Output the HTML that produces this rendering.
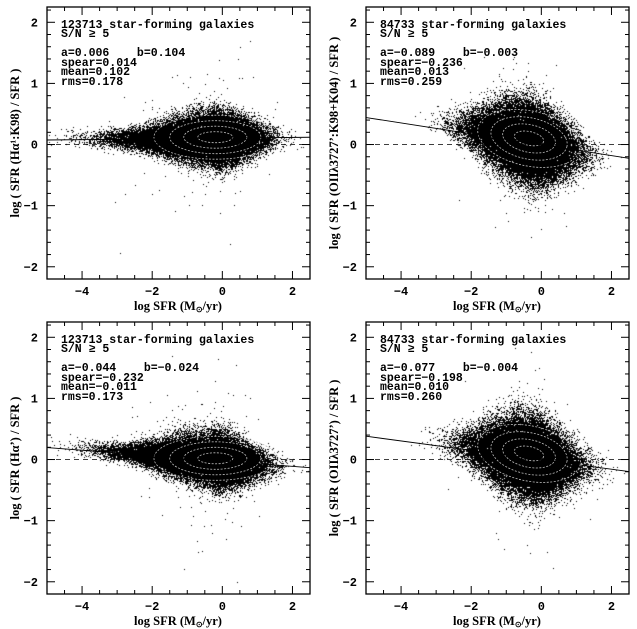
<!DOCTYPE html>
<html><head><meta charset="utf-8"><style>
html,body{margin:0;padding:0;background:#fff;}
#wrap{position:relative;width:637px;height:629px;overflow:hidden;}
canvas,svg{position:absolute;left:0;top:0;}
text{font-family:"Liberation Mono",monospace;fill:#000;white-space:pre;}
text.serif{font-family:"Liberation Serif",serif;}
</style></head><body>
<div id="wrap">
<canvas id="cv" width="637" height="629"></canvas>
<svg id="sv" width="637" height="629"></svg>
</div>
<script>
// ---- data ----
const panelCounts = ["123713","84733","123713","84733"];
const fitA = [0.006,-0.089,-0.044,-0.077];
const fitB = [0.104,-0.003,-0.024,-0.004];
const spearVals = ["0.014","-0.236","-0.232","-0.198"];
const meanVals = ["0.102","0.013","-0.011","0.010"];
const rmsVals = ["0.178","0.259","0.173","0.260"];
const yLabels = ["log ( SFR (H\u03b1\u00b9:K98) / SFR )","log ( SFR (OII\u03bb3727\u2019:K98+K04) / SFR )","log ( SFR (H\u03b1\u2019) / SFR )","log ( SFR (OII\u03bb3727\u2019) / SFR )"];
const cloudXCenter = [-0.3,-0.4,-0.3,-0.4];
const cloudXSpreadLeft = [1.25,0.8,1.25,0.8];
const cloudXSpreadRight = [0.65,0.65,0.65,0.65];
const cloudYCenter = [0.1,0.05,0.0,0.05];
const cloudYSpread = [0.2,0.3,0.2,0.3];
const cloudTilt = [0.0,-0.12,-0.05,-0.1];
const cloudN = [40000,40000,40000,40000];
const xTicks = [-4,-2,0,2];
const yTicks = [-2,-1,0,1,2];
const xMin=-5,xMax=2.5,yMin=-2.2,yMax=2.25;

// ---- layout ----
const panelLeft=[47,366,47,366], panelTop=[7,7,322,322];
const PW=263, PH=272;
const svg=document.getElementById('sv');
const ctx=document.getElementById('cv').getContext('2d');
const NS='http://www.w3.org/2000/svg';
function mk(tag,attrs,parent){const e=document.createElementNS(NS,tag);for(const k in attrs)e.setAttribute(k,attrs[k]);(parent||svg).appendChild(e);return e;}
let seed=12345;
function rnd(){seed|=0;seed=seed+0x6D2B79F5|0;let t=Math.imul(seed^seed>>>15,1|seed);t=t+Math.imul(t^t>>>7,61|t)^t;return((t^t>>>14)>>>0)/4294967296;}
function gauss(){let u=rnd()||1e-9,v=rnd();return Math.sqrt(-2*Math.log(u))*Math.cos(2*Math.PI*v);}

for(let p=0;p<4;p++){
  const L=panelLeft[p],T=panelTop[p];
  const sx=x=>L+(x-xMin)/(xMax-xMin)*PW;
  const sy=y=>T+(yMax-y)/(yMax-yMin)*PH;
  const g=mk('g',{});
  
  
  ctx.save();ctx.beginPath();ctx.rect(L,T,PW,PH);ctx.clip();
  ctx.fillStyle='#000';
  for(let i=0;i<cloudN[p];i++){
    let gx=gauss();
    let x=cloudXCenter[p]+(gx<0?gx*cloudXSpreadLeft[p]:gx*cloudXSpreadRight[p]);
    const d=x-cloudXCenter[p];
    const w=0.35+0.65*Math.exp(-d*d/2.5);
    let y=cloudYCenter[p]+cloudTilt[p]*d+gauss()*cloudYSpread[p]*w;
    if(rnd()<0.004){y+=gauss()*0.6;}
    ctx.fillRect(Math.round(sx(x)),Math.round(sy(y)),1,1);
  }
  ctx.restore();
  const cg=mk('g',{},g);
  
  
  const rx=[1.75,1.3,0.9,0.5], ry=[0.36,0.27,0.18,0.09];
  for(let k=0;k<4;k++){
    const f=p%2?1.25:1;
    const cx=sx(cloudXCenter[p]+(p%2?0.05:0.1)), cy=sy(cloudYCenter[p]+(p%2?0.05:0.02));
    mk('ellipse',{cx:cx,cy:cy,rx:rx[k]*(p%2?0.85:1)*PW/7.5,ry:ry[k]*f*PH/4.45,fill:'none',stroke:'#bbb','stroke-width':0.8,'stroke-dasharray':'2,1.5',transform:p%2?`rotate(12 ${cx} ${cy})`:''},cg);
  }
  const z=mk('line',{x1:L,x2:L+PW,y1:sy(0),y2:sy(0),stroke:'#000','stroke-width':0.8,'stroke-dasharray':'5,4'},g);
  
  
  const fl=mk('line',{x1:sx(xMin),y1:sy(fitA[p]*xMin+fitB[p]),x2:sx(xMax),y2:sy(fitA[p]*xMax+fitB[p]),stroke:'#000','stroke-width':0.9},g);
  
  
  const fr=mk('rect',{x:L,y:T,width:PW,height:PH,fill:'none',stroke:'#000','stroke-width':1.3},g);
  
  
  for(let v=-5;v<=2.5001;v+=0.5){
    const major=Math.abs(v-Math.round(v/2)*2)<1e-6;const len=major?8:4;const X=sx(v);
    mk('line',{x1:X,x2:X,y1:T+PH,y2:T+PH-len,stroke:'#000','stroke-width':1},g);
    mk('line',{x1:X,x2:X,y1:T,y2:T+len,stroke:'#000','stroke-width':1},g);
  }
  for(let v=-2.2;v<=2.2001;v+=0.2){
    const major=Math.abs(v-Math.round(v))<1e-6;const len=major?8:4;const Y=sy(v);
    mk('line',{x1:L,x2:L+len,y1:Y,y2:Y,stroke:'#000','stroke-width':1},g);
    mk('line',{x1:L+PW,x2:L+PW-len,y1:Y,y2:Y,stroke:'#000','stroke-width':1},g);
  }
  xTicks.forEach(v=>{const t=mk('text',{x:sx(v),y:T+PH+16,'text-anchor':'middle','font-size':12,'font-weight':'bold'},g);t.textContent=v<0?'\u2212'+(-v):v;
    
    });
  yTicks.forEach(v=>{const t=mk('text',{x:L-9,y:sy(v)+4,'text-anchor':'end','font-size':12,'font-weight':'bold'},g);t.textContent=v<0?'\u2212'+(-v):v;
    
    });
  const xl=mk('text',{x:L+131,y:T+PH+31,'text-anchor':'middle','font-size':12.5,'font-weight':'bold','class':'serif'},g);
  xl.innerHTML='log SFR (M<tspan font-size="8" dy="2">\u2299</tspan><tspan dy="-2">/yr)</tspan>';
  
  
  const yl=mk('text',{x:0,y:0,'text-anchor':'middle','font-size':12.5,'font-weight':'bold','class':'serif',transform:`translate(${L-28},${T+PH/2}) rotate(-90)`},g);
  yl.textContent=yLabels[p];
  
  
  const lines=[panelCounts[p]+' star-forming galaxies','S/N \u2265 5',null,'a='+(fitA[p]<0?'\u2212':'')+Math.abs(fitA[p]).toFixed(3)+'    b='+(fitB[p]<0?'\u2212':'')+Math.abs(fitB[p]).toFixed(3),'spear='+spearVals[p].replace('-','\u2212'),'mean='+meanVals[p].replace('-','\u2212'),'rms='+rmsVals[p]];
  const ly=[17,26,0,45,55,64,74];
  lines.forEach((s,i)=>{if(!s)return;const t=mk('text',{x:L+14,y:T+ly[i]+4,'font-size':11.5,'font-weight':'bold'},g);t.textContent=s;
    
    });
}
</script>
</body></html>
